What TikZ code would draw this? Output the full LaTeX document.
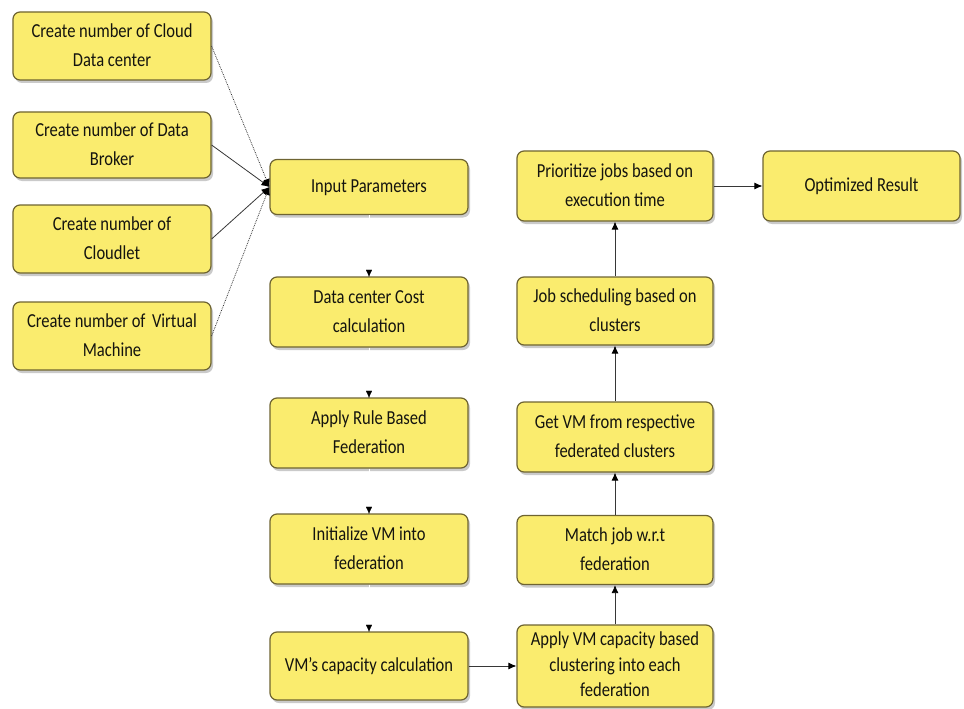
\documentclass[tikz,border=0pt]{standalone}
\usepackage{fontspec}
\usepackage{graphicx}
\setmainfont{Carlito}
\usetikzlibrary{arrows.meta,shadows}
\definecolor{boxfill}{RGB}{250,236,110}
\definecolor{boxline}{RGB}{110,100,50}
\definecolor{txt}{RGB}{20,20,15}
\definecolor{lin}{RGB}{55,55,55}
\newcommand\bt[2][25]{\scalebox{1}[1.2]{\fontsize{16.6}{#1}\selectfont\begin{tabular}{@{}c@{}}#2\end{tabular}}}
\tikzset{
  box/.style={draw=boxline, fill=boxfill, line width=1.2pt, rounded corners=7bp,
    text=txt, inner sep=0pt, align=center,
    drop shadow={shadow xshift=2bp, shadow yshift=-3bp, opacity=0.35, fill=black!60}},
  wbox/.style={box, minimum width=198bp},
  conn/.style={draw=lin, line width=0.8pt},
  tip/.style={-{Latex[length=8bp,width=7bp,color=black]}},
  hidden/.style={draw=white, line width=0.1pt, -{Latex[length=7bp,width=6bp,color=black]}, shorten >=-0.5bp}
}
\begin{document}
\begin{tikzpicture}[x=1bp,y=-1bp]
\useasboundingbox (0,0) rectangle (964,709);
% left column
\node[wbox, minimum height=68bp] (L1) at (112,46) {\bt{Create number of Cloud\\Data center}};
\node[wbox, minimum height=66bp] (L2) at (112,145) {\bt{Create number of Data\\Broker}};
\node[wbox, minimum height=68bp] (L3) at (112,239) {\bt{Create number of\\Cloudlet}};
\node[wbox, minimum height=68bp] (L4) at (112,336) {\bt{Create number of\, Virtual\\Machine}};
% middle column
\node[wbox, minimum height=55bp] (M0) at (369,187) {\bt{Input Parameters}};
\node[wbox, minimum height=70bp] (M1) at (369,312) {\bt{Data center Cost\\calculation}};
\node[wbox, minimum height=70bp] (M2) at (369,433) {\bt{Apply Rule Based\\Federation}};
\node[wbox, minimum height=70bp] (M3) at (369,549) {\bt{Initialize VM into\\federation}};
\node[wbox, minimum height=68bp] (M4) at (369,666) {\bt{VM’s capacity calculation}};
% right column
\node[box, minimum width=196bp, minimum height=70bp] (R5) at (615,186) {\bt{Prioritize jobs based on\\execution time}};
\node[box, minimum width=196bp, minimum height=68bp] (R4) at (615,311) {\bt{Job scheduling based on\\clusters}};
\node[box, minimum width=196bp, minimum height=70bp] (R3) at (615,437) {\bt{Get VM from respective\\federated clusters}};
\node[box, minimum width=196bp, minimum height=69bp] (R2) at (615,550) {\bt{Match job w.r.t\\federation}};
\node[box, minimum width=196bp, minimum height=82bp] (R1) at (615,666) {\bt[21]{Apply VM capacity based\\clustering into each\\federation}};
\node[box, minimum width=197bp, minimum height=70bp] (OR) at (861.5,186) {\bt{Optimized Result}};
% converging connectors
\draw[conn, densely dotted, tip] (L1.east) -- (M0.west);
\draw[conn, tip] (L2.east) -- (M0.west);
\draw[conn, tip] (L3.east) -- (M0.west);
\draw[conn, densely dotted, tip] (L4.east) -- (M0.west);
% hidden middle connectors (only tips visible)
\draw[hidden] (M0.south) -- (M1.north);
\draw[hidden] (M1.south) -- (M2.north);
\draw[hidden] (M2.south) -- (M3.north);
\draw[hidden] (M3.south) -- (M4.north);
% right flow
\draw[conn, tip] (M4.east) -- (R1.west);
\draw[conn, tip] (R1.north) -- (R2.south);
\draw[conn, tip] (R2.north) -- (R3.south);
\draw[conn, tip] (R3.north) -- (R4.south);
\draw[conn, tip] (R4.north) -- (R5.south);
\draw[conn, tip] (R5.east) -- (OR.west);
\end{tikzpicture}
\end{document}
